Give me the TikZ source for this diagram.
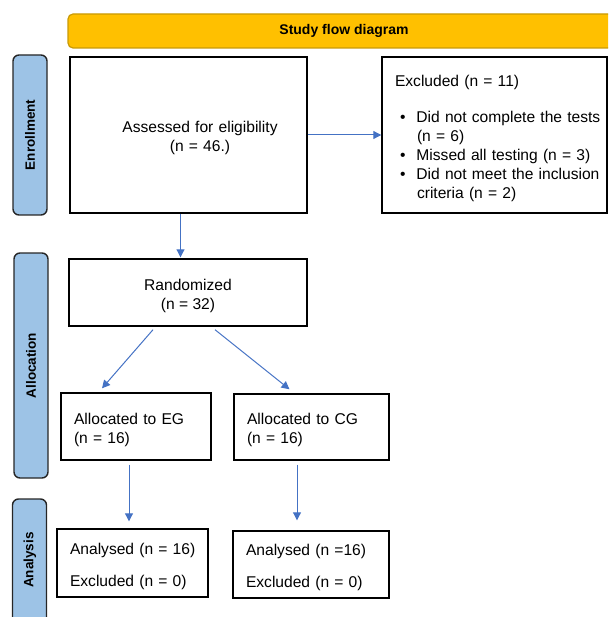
\documentclass[tikz,border=0pt]{standalone}
\usepackage{fontspec}
\setmainfont{Liberation Sans}
\usepackage{tikz}
\usetikzlibrary{positioning, arrows.meta}

\definecolor{barorange}{HTML}{FFC000}
\definecolor{baredge}{HTML}{C99A06}
\definecolor{sideblue}{HTML}{9DC3E6}
\definecolor{arrowblue}{HTML}{4472C4}
\newcommand{\topgap}{\rule{0pt}{18pt}}

\begin{document}
\begin{tikzpicture}
	[x=1pt, y=-1pt,
	 box/.style={draw=black, line width=1.4pt, inner sep=0pt,
	   font=\fontsize{15.6}{19}\selectfont},
	 side/.style={draw=black!85, fill=sideblue, line width=1.4pt,
	   rounded corners=6pt, rotate=90, minimum height=34pt, inner sep=0pt,
	   font=\bfseries\fontsize{13.5}{16}\selectfont},
	 flow/.style={draw=arrowblue, line width=1pt,
	   -{Triangle[length=8pt,width=8pt]}}]
   \clip (0,0) rectangle (608,617);
   % title bar and side labels
   \node[draw=baredge, fill=barorange, line width=1.2pt, rounded corners=5pt,
     minimum width=552pt, minimum height=34pt,
     font=\bfseries\fontsize{14}{16}\selectfont] (title) at (344,31) {Study flow diagram};
   \node[side, minimum width=160pt] (enrol) at (30,135) {Enrollment};
   \node[side, minimum width=225pt] (alloc) at (31,365.5) {Allocation};
   \node[side, minimum width=140pt] (anal) at (29.5,569) {};
   \node[font=\bfseries\fontsize{13.5}{16}\selectfont, rotate=90] (analtxt) at (30,560) {Analysis};
   % boxes
   \node[box, minimum width=237pt, minimum height=156pt, text width=237pt, align=center] (assess) at (188.5,135)
     {\topgap\hspace*{23pt}Assessed for eligibility\\ \hspace*{23pt}(n = 46.)};
   \node[box, minimum width=225pt, minimum height=156pt, text width=225pt, align=left] (excl) at (494.5,135)
     {\topgap\hspace*{13pt}Excluded (n = 11)\\[17pt]
      \hspace*{18pt}\textbullet\hspace{11pt}Did not complete the tests\\
      \hspace*{35pt}(n = 6)\\
      \hspace*{18pt}\textbullet\hspace{11pt}Missed all testing (n = 3)\\
      \hspace*{18pt}\textbullet\hspace{11pt}Did not meet the inclusion\\
      \hspace*{35pt}criteria (n = 2)};
   \node[box, minimum width=238pt, minimum height=67pt, align=center] (rand) at (188,292.5)
     {\topgap Randomized\\ (n = 32)};
   \node[box, minimum width=150pt, minimum height=67pt, text width=150pt, align=left] (eg) at (136,426.5)
     {\topgap\hspace*{13pt}Allocated to EG\\ \hspace*{13pt}(n = 16)};
   \node[box, minimum width=155pt, minimum height=66pt, text width=155pt, align=left] (cg) at (311.5,427)
     {\topgap\hspace*{13pt}Allocated to CG\\ \hspace*{13pt}(n = 16)};
   \node[box, minimum width=151pt, minimum height=68pt, text width=151pt, align=left] (aneg) at (132.5,563)
     {\topgap\hspace*{13pt}Analysed (n = 16)\\[13pt] \hspace*{13pt}Excluded (n = 0)};
   \node[box, minimum width=156pt, minimum height=67pt, text width=156pt, align=left] (ancg) at (311,564.5)
     {\topgap\hspace*{13pt}Analysed (n =16)\\[13pt] \hspace*{13pt}Excluded (n = 0)};
   % arrows
   \draw[flow] (assess.east) -- (excl.west);
   \draw[flow] ([xshift=-8pt]assess.south) -- ([xshift=-8pt,yshift=1pt]assess.south |- rand.north);
   \draw[flow] ([xshift=-35pt,yshift=-3pt]rand.south) -- ([xshift=-34pt,yshift=4pt]eg.north);
   \draw[flow] ([xshift=27pt,yshift=-3pt]rand.south) -- ([xshift=-22pt,yshift=4pt]cg.north);
   \draw[flow] ([xshift=-7pt,yshift=-4pt]eg.south) -- ([xshift=-3.5pt,yshift=7pt]aneg.north);
   \draw[flow] ([xshift=-14.5pt,yshift=-4pt]cg.south) -- ([xshift=-14pt,yshift=10pt]ancg.north);
\end{tikzpicture}
\end{document}
